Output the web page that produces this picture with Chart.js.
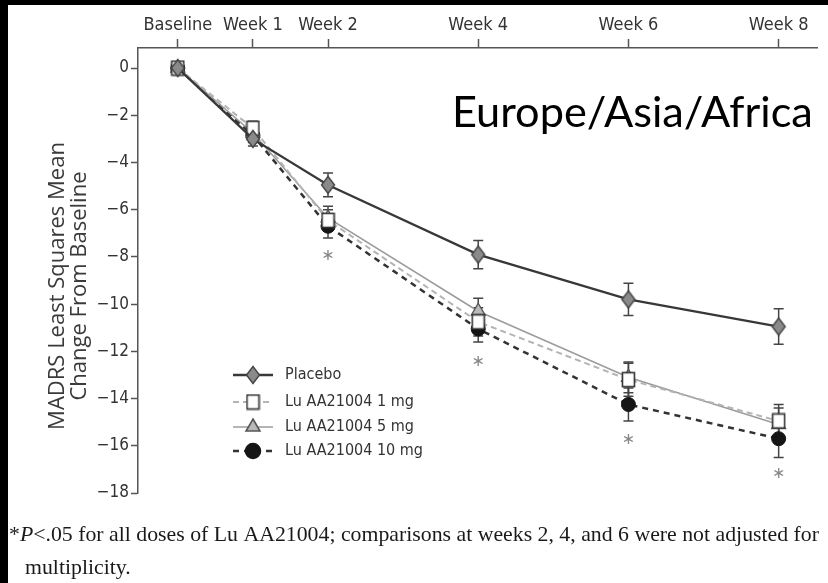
<!DOCTYPE html>
<html>
<head>
<meta charset="utf-8">
<script src="https://cdn.jsdelivr.net/npm/chart.js@4.4.1/dist/chart.umd.min.js"></script>
<style>
  body { margin: 0; background: #000; }
  canvas { display: block; }
</style>
</head>
<body>
<canvas id="madrsChart" width="828" height="583"></canvas>
<script>
// weeks on the x axis and their labels
const weeks = [0, 1, 2, 4, 6, 8]
const weekLabels = ['Baseline', 'Week 1', 'Week 2', 'Week 4', 'Week 6', 'Week 8']
const yTicks = [0, -2, -4, -6, -8, -10, -12, -14, -16, -18]

// LS mean change from baseline, and half-width of the error bars
const placebo = [0, -3.0, -4.95, -7.9, -9.8, -10.95]
const placeboErr = [0.15, 0.3, 0.5, 0.6, 0.68, 0.75]
const dose1mg = [0, -2.55, -6.45, -10.75, -13.2, -14.95]
const dose1mgErr = [0.15, 0.3, 0.45, 0.6, 0.7, 0.7]
const dose5mg = [0, -2.75, -6.35, -10.3, -13.1, -15.1]
const dose5mgErr = [0.15, 0.3, 0.5, 0.55, 0.65, 0.7]
const dose10mg = [0, -2.85, -6.7, -11.05, -14.25, -15.7]
const dose10mgErr = [0.15, 0.3, 0.5, 0.55, 0.7, 0.8]

// asterisks under the significant weeks
const sigWeeks = [2, 4, 6, 8]
const sigMarkY = [-7.95, -12.45, -15.75, -17.2]

const narrow = "'DejaVu Sans Condensed', 'Roboto Condensed', 'Liberation Sans Narrow', Roboto, sans-serif"

function toPoints(values) {
  return weeks.map((w, i) => ({ x: w, y: values[i] }))
}

function markerCanvas(w, h, draw) {
  const c = document.createElement('canvas')
  c.width = w
  c.height = h
  draw(c.getContext('2d'), w, h)
  return c
}

const diamond = markerCanvas(16, 20, (g, w, h) => {
  g.beginPath()
  g.moveTo(w / 2, 1.5)
  g.lineTo(w - 1.5, h / 2)
  g.lineTo(w / 2, h - 1.5)
  g.lineTo(1.5, h / 2)
  g.closePath()
  g.fillStyle = '#8a8a8a'
  g.fill()
  g.lineWidth = 1.4
  g.strokeStyle = '#444'
  g.stroke()
})

const square = markerCanvas(15, 17, (g, w, h) => {
  g.fillStyle = '#fff'
  g.fillRect(1.5, 1.5, w - 3, h - 3)
  g.lineWidth = 1.6
  g.strokeStyle = '#333'
  g.strokeRect(1.5, 1.5, w - 3, h - 3)
})

const datasets = [
  {
    label: 'Placebo',
    data: toPoints(placebo),
    errors: placeboErr,
    borderColor: '#383838',
    borderWidth: 2.3,
    pointStyle: diamond,
    pointRadius: 8
  },
  {
    label: 'Lu AA21004 1 mg',
    data: toPoints(dose1mg),
    errors: dose1mgErr,
    borderColor: '#b4b4b4',
    borderWidth: 2,
    borderDash: [6, 4],
    pointStyle: square,
    pointRadius: 8
  },
  {
    label: 'Lu AA21004 5 mg',
    data: toPoints(dose5mg),
    errors: dose5mgErr,
    borderColor: '#9c9c9c',
    borderWidth: 1.6,
    pointStyle: 'triangle',
    pointRadius: 8,
    pointBackgroundColor: '#b8b8b8',
    pointBorderColor: '#555',
    pointBorderWidth: 1.3
  },
  {
    label: 'Lu AA21004 10 mg',
    data: toPoints(dose10mg),
    errors: dose10mgErr,
    borderColor: '#333',
    borderWidth: 2.5,
    borderDash: [6, 5],
    pointStyle: 'circle',
    pointRadius: 7,
    pointBackgroundColor: '#151515',
    pointBorderColor: '#151515',
    pointBorderWidth: 1
  }
]

const backdrop = {
  id: 'backdrop',
  beforeDraw(chart) {
    const ctx = chart.ctx
    ctx.save()
    ctx.fillStyle = '#000'
    ctx.fillRect(0, 0, chart.width, chart.height)
    ctx.fillStyle = '#fff'
    ctx.fillRect(8, 5, chart.width - 8, chart.height - 5)
    ctx.restore()
  }
}

const errorBars = {
  id: 'errorBars',
  beforeDatasetsDraw(chart) {
    const { ctx, scales: { x, y } } = chart
    ctx.save()
    ctx.strokeStyle = '#444'
    ctx.lineWidth = 1.5
    chart.data.datasets.forEach(ds => {
      ds.errors.forEach((e, i) => {
        const px = x.getPixelForValue(ds.data[i].x)
        const top = y.getPixelForValue(ds.data[i].y + e)
        const bot = y.getPixelForValue(ds.data[i].y - e)
        ctx.beginPath()
        ctx.moveTo(px, top)
        ctx.lineTo(px, bot)
        ctx.moveTo(px - 5, top)
        ctx.lineTo(px + 5, top)
        ctx.moveTo(px - 5, bot)
        ctx.lineTo(px + 5, bot)
        ctx.stroke()
      })
    })
    ctx.restore()
  }
}

function fitSize(ctx, text, family, width) {
  ctx.font = '100px ' + family
  return 100 * width / ctx.measureText(text).width
}

const annotations = {
  id: 'annotations',
  afterDraw(chart) {
    const { ctx, scales: { x, y } } = chart
    ctx.save()

    // asterisks
    ctx.fillStyle = '#888'
    ctx.font = '16px DejaVu Sans'
    ctx.textAlign = 'center'
    ctx.textBaseline = 'middle'
    sigWeeks.forEach((w, i) => {
      ctx.fillText('\u2217', x.getPixelForValue(w), y.getPixelForValue(sigMarkY[i]))
    })

    // y axis title
    const yTitle = ['MADRS Least Squares Mean', 'Change From Baseline']
    const ySize = fitSize(ctx, yTitle[0], "'Open Sans'", 288)
    ctx.fillStyle = '#3a3a3a'
    ctx.font = ySize.toFixed(1) + "px 'Open Sans'"
    ctx.translate(58, 286)
    ctx.rotate(-Math.PI / 2)
    ctx.fillText(yTitle[0], 0, 0)
    ctx.fillText(yTitle[1], 0, 22)
    ctx.setTransform(1, 0, 0, 1, 0, 0)

    // region title
    const region = 'Europe/Asia/Africa'
    const rSize = fitSize(ctx, region, 'Lato', 361)
    ctx.fillStyle = '#000'
    ctx.font = rSize.toFixed(1) + 'px Lato'
    ctx.textAlign = 'left'
    ctx.textBaseline = 'alphabetic'
    ctx.fillText(region, 452, 127)

    // legend
    const rows = [375, 402, 427, 451]
    ctx.font = '16px ' + narrow
    ctx.textBaseline = 'middle'
    chart.data.datasets.forEach((ds, i) => {
      const ry = rows[i]
      ctx.save()
      ctx.strokeStyle = ds.borderColor
      ctx.lineWidth = ds.borderWidth
      ctx.setLineDash(ds.borderDash || [])
      ctx.beginPath()
      ctx.moveTo(233, ry)
      ctx.lineTo(273, ry)
      ctx.stroke()
      ctx.setLineDash([])
      ctx.fillStyle = ds.pointBackgroundColor || '#fff'
      ctx.strokeStyle = ds.pointBorderColor || '#333'
      Chart.helpers.drawPoint(ctx, {
        pointStyle: ds.pointStyle,
        radius: ds.pointRadius,
        borderWidth: ds.pointBorderWidth || 1,
        rotation: 0
      }, 253, ry)
      ctx.restore()
      ctx.fillStyle = '#333'
      ctx.fillText(ds.label, 285, ry)
    })

    // footnote, a serif squeezed a little to match the narrow original
    const serif = "'Liberation Serif'"
    const fSize = 21.5
    const parts = [['*', ''], ['P', 'italic '], ['<.05 for all doses of Lu AA21004; comparisons at weeks 2, 4, and 6 were not adjusted for', '']]
    let total = 0
    parts.forEach(p => {
      ctx.font = p[1] + fSize + 'px ' + serif
      total += ctx.measureText(p[0]).width
    })
    const squeeze = 810 / total
    ctx.fillStyle = '#1a1a1a'
    ctx.textBaseline = 'alphabetic'
    ctx.translate(9, 0)
    ctx.scale(squeeze, 1)
    let fx = 0
    parts.forEach(p => {
      ctx.font = p[1] + fSize + 'px ' + serif
      ctx.fillText(p[0], fx, 541)
      fx += ctx.measureText(p[0]).width
    })
    ctx.font = fSize + 'px ' + serif
    ctx.fillText('multiplicity.', 16 / squeeze, 574)
    ctx.setTransform(1, 0, 0, 1, 0, 0)

    ctx.restore()
  }
}

new Chart(document.getElementById('madrsChart').getContext('2d'), {
  type: 'line',
  data: { datasets: datasets },
  options: {
    responsive: false,
    animation: false,
    layout: { padding: { left: 8, top: 5, right: 6, bottom: 90 } },
    plugins: {
      legend: { display: false },
      tooltip: { enabled: false }
    },
    scales: {
      x: {
        type: 'linear',
        position: 'top',
        min: -0.53,
        max: 8.52,
        afterBuildTicks: s => { s.ticks = weeks.map(v => ({ value: v })) },
        afterFit: s => { s.height = 43 },
        grid: { drawOnChartArea: false, tickLength: 9, tickColor: '#555', tickWidth: 1.5 },
        border: { color: '#555', width: 1.5 },
        ticks: {
          autoSkip: false,
          maxRotation: 0,
          padding: 3,
          color: '#333',
          font: { family: narrow, size: 18 },
          callback: v => weekLabels[weeks.indexOf(v)]
        }
      },
      y: {
        min: -18,
        max: 0.85,
        afterBuildTicks: s => { s.ticks = yTicks.map(v => ({ value: v })) },
        afterFit: s => { s.width = 130 },
        grid: { drawOnChartArea: false, tickLength: 7, tickColor: '#555', tickWidth: 1.5 },
        border: { color: '#555', width: 1.5 },
        ticks: {
          padding: 2,
          color: '#333',
          font: { family: narrow, size: 17 },
          callback: v => (v < 0 ? '\u2212' + Math.abs(v) : String(v))
        }
      }
    }
  },
  plugins: [backdrop, errorBars, annotations]
})
</script>
</body>
</html>
